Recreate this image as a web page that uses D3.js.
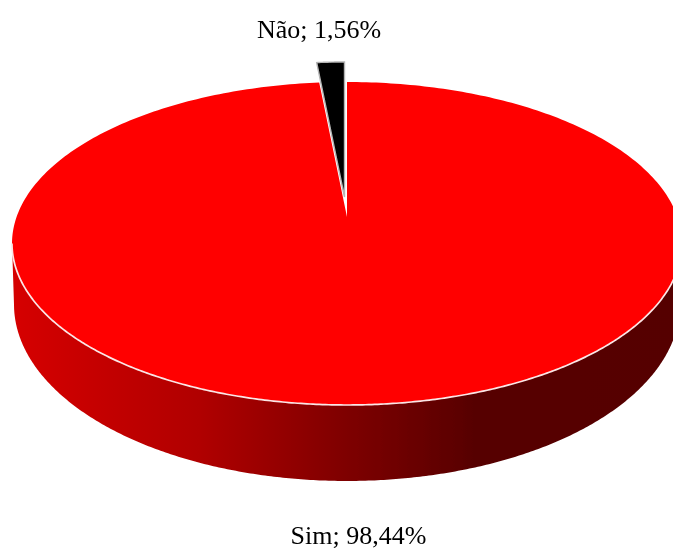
<!DOCTYPE html>
<html><head><meta charset="utf-8">
<script src="https://cdn.jsdelivr.net/npm/d3@7/dist/d3.min.js"></script>
<style>html,body{margin:0;padding:0;background:#fff;overflow:hidden}svg{display:block}</style>
</head><body><svg id="c" width="673" height="550"></svg>
<script>
const categories = ["Sim", "Não"];
const values = [98.44, 1.56];
const colors = ["#ff0000", "#000000"];
const sideStops = [[0, "#d60000"], [0.28, "#b00000"], [0.5, "#7e0000"], [0.69, "#570000"], [1, "#550000"]];

const cx = 347, apexY = 217, farR = 135, nearR = 188, widest = 335;
const p = (nearR / farR - 1) / (nearR / farR + 1);
const kY = farR * (1 + p), kX = widest * Math.sqrt(1 - p * p);
const project = (a, sx = 1, sy = 1, dy = 0, ox = 0, oy = 0) => {
  const u = Math.sin(a), v = Math.cos(a), w = 1 + p * v;
  return [cx + ox + sx * kX * u / w, apexY + dy + oy - sy * kY * v / w];
};
const centre = (ox = 0, oy = 0) => [cx + ox, apexY + oy];
const arcs = d3.pie().sort(null).value(d => d)(values);
const samples = (a0, a1, n = 360) => d3.range(n + 1).map(i => a0 + (a1 - a0) * i / n);
const line = d3.line();
const svg = d3.select("#c");
const defs = svg.append("defs");
const grad = defs.append("linearGradient")
  .attr("id", "side").attr("gradientUnits", "userSpaceOnUse")
  .attr("x1", 12).attr("x2", 682).attr("y1", 0).attr("y2", 0);
grad.selectAll("stop").data(sideStops).join("stop")
  .attr("offset", d => d[0]).attr("stop-color", d => d[1]);
defs.append("filter").attr("id", "soft").attr("x", "-5%").attr("y", "-5%").attr("width", "110%").attr("height", "110%")
  .append("feGaussianBlur").attr("stdDeviation", 0.45);

const g = svg.append("g").attr("filter", "url(#soft)");

// side wall: between the widest points of the rim, around the near side
const base = { sx: 0.994, sy: 1.093, dy: 58.5 };
const tilt = Math.acos(-p);
const front = samples(tilt, 2 * Math.PI - tilt);
const wall = front.map(a => project(a))
  .concat(front.slice().reverse().map(a => project(a, base.sx, base.sy, base.dy)));
g.append("path").attr("d", line(wall) + "Z").attr("fill", "url(#side)");

// exploded small slice, behind the big one
const small = arcs[1];
const off = { ox: -2.5, oy: -20 };
const smallPts = [centre(off.ox, off.oy)]
  .concat(samples(small.startAngle, small.endAngle, 20).map(a => project(a, 1, 1, 0, off.ox, off.oy)));
g.append("path").attr("d", line(smallPts) + "Z")
  .attr("fill", colors[1]).attr("stroke", "#b4b4b4").attr("stroke-width", 1.4);

// big slice top face, with a pale highlight on the near rim only
const big = arcs[0];
const bigPts = [centre()].concat(samples(big.startAngle, big.endAngle).map(a => project(a)));
g.append("path").attr("d", line(bigPts) + "Z").attr("fill", colors[0]);
g.append("path").attr("d", line(front.map(a => project(a))))
  .attr("fill", "none").attr("stroke", "#fbe6e6").attr("stroke-width", 1.7);

const label = i => categories[i] + "; " + d3.format(".2f")(values[i]).replace(".", ",") + "%";
const font = "'Liberation Serif','Times New Roman',serif";
g.append("text").attr("x", 319).attr("y", 38).attr("text-anchor", "middle")
  .attr("font-family", font).attr("font-size", 26).attr("fill", "#000").text(label(1));
g.append("text").attr("x", 358.5).attr("y", 544).attr("text-anchor", "middle")
  .attr("font-family", font).attr("font-size", 26).attr("fill", "#000").text(label(0));
</script></body></html>
